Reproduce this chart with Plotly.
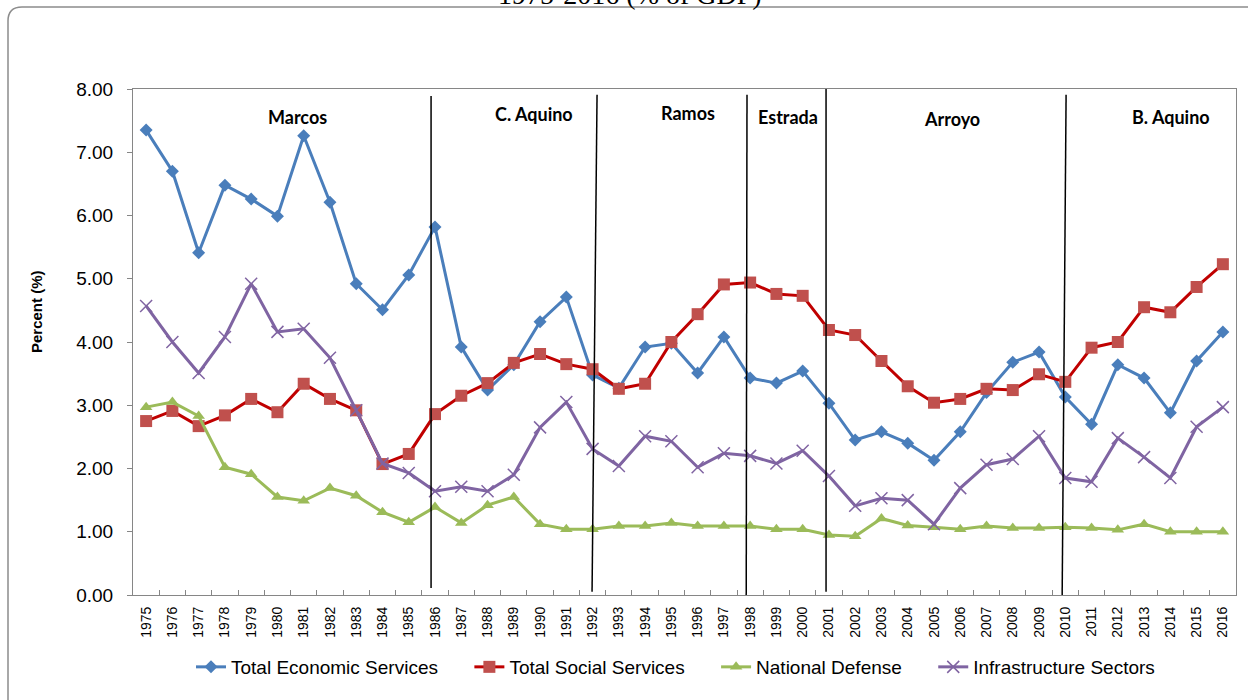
import plotly.graph_objects as go

# ---------------- data ----------------
years = [str(y) for y in range(1975, 2017)]

econ = [7.35, 6.70, 5.41, 6.48, 6.26, 5.99, 7.26, 6.21, 4.92, 4.51,
        5.06, 5.82, 3.92, 3.24, 3.64, 4.32, 4.71, 3.48, 3.27, 3.92,
        3.98, 3.51, 4.08, 3.43, 3.35, 3.54, 3.03, 2.45, 2.58, 2.40,
        2.13, 2.58, 3.20, 3.68, 3.84, 3.13, 2.70, 3.64, 3.43, 2.88,
        3.70, 4.16]
social = [2.75, 2.91, 2.67, 2.84, 3.10, 2.89, 3.34, 3.10, 2.92, 2.07,
          2.23, 2.86, 3.15, 3.35, 3.67, 3.81, 3.65, 3.57, 3.26, 3.34,
          4.00, 4.44, 4.91, 4.94, 4.76, 4.73, 4.19, 4.11, 3.70, 3.30,
          3.04, 3.10, 3.26, 3.24, 3.49, 3.37, 3.91, 4.00, 4.55, 4.47,
          4.87, 5.23]
defense = [2.97, 3.05, 2.83, 2.02, 1.91, 1.55, 1.49, 1.69, 1.57, 1.31,
           1.15, 1.39, 1.14, 1.42, 1.55, 1.12, 1.04, 1.04, 1.09, 1.09,
           1.14, 1.09, 1.09, 1.09, 1.04, 1.04, 0.95, 0.93, 1.21, 1.10,
           1.07, 1.04, 1.09, 1.06, 1.06, 1.07, 1.06, 1.03, 1.12, 1.00,
           1.00, 1.00]
infra = [4.57, 4.00, 3.51, 4.08, 4.92, 4.16, 4.21, 3.75, 2.92, 2.08,
         1.93, 1.64, 1.71, 1.64, 1.90, 2.65, 3.05, 2.31, 2.04, 2.51,
         2.43, 2.02, 2.24, 2.20, 2.08, 2.28, 1.88, 1.41, 1.53, 1.50,
         1.12, 1.69, 2.06, 2.15, 2.51, 1.85, 1.79, 2.48, 2.18, 1.85,
         2.66, 2.97]

series_names = ["Total Economic Services", "Total Social Services",
                "National Defense", "Infrastructure Sectors"]

# administrations (label, x position in category index units, y value)
terms = ["Marcos", "C. Aquino", "Ramos", "Estrada", "Arroyo", "B. Aquino"]
term_x = [5.77, 14.76, 20.63, 24.44, 30.69, 39.02]
term_y = [7.56, 7.60, 7.62, 7.56, 7.53, 7.56]

# hand-drawn term divider lines: (x top, x bottom, y top, y bottom), index units
break_top_x = [10.85, 17.17, 22.88, 25.89, 35.03]
break_bot_x = [10.85, 16.98, 22.85, 25.89, 34.88]
break_top_y = [7.89, 7.91, 7.91, 8.00, 7.91]
break_bot_y = [0.11, 0.05, 0.00, 0.05, -0.03]

y_ticks = [0, 1, 2, 3, 4, 5, 6, 7, 8]

# ---------------- figure ----------------
W, H = 1248, 700
ML, MR, MT, MB = 133, 12, 89, 105
PW, PH = W - ML - MR, H - MT - MB


def px_x(p):
    return (p - ML) / PW


def px_y(p):
    return (H - MB - p) / PH


fig = go.Figure()

styles = [
    dict(line=dict(color="#4A7EBB", width=3),
         marker=dict(symbol="diamond", size=10, color="#4A7EBB")),
    dict(line=dict(color="#C00000", width=3),
         marker=dict(symbol="square", size=12, color="#C0504D")),
    dict(line=dict(color="#9BBB59", width=3),
         marker=dict(symbol="triangle-up", size=11, color="#9BBB59")),
    dict(line=dict(color="#7F64A2", width=3),
         marker=dict(symbol="x-thin-open", size=12, color="#8064A2",
                     line=dict(width=1.5, color="#8064A2"))),
]
pad = "\u00a0" * 5
for name, vals, st in zip(series_names, [econ, social, defense, infra], styles):
    fig.add_trace(go.Scatter(x=years, y=vals, name=name + pad,
                             mode="lines+markers", **st))

for xt, xb, yt, yb in zip(break_top_x, break_bot_x, break_top_y, break_bot_y):
    fig.add_shape(type="line", xref="x", yref="y", x0=xt, x1=xb, y0=yt, y1=yb,
                  line=dict(color="black", width=1.5), layer="above")

for t, tx, ty in zip(terms, term_x, term_y):
    fig.add_annotation(x=tx, y=ty, xref="x", yref="y", text="<b>" + t + "</b>",
                       showarrow=False, xanchor="center", yanchor="middle",
                       font=dict(family="Lato, Arial", size=18, color="black"))

# y-axis title
fig.add_annotation(x=px_x(36), y=px_y(312), xref="paper", yref="paper",
                   xanchor="center", yanchor="middle",
                   text="<b>Percent (%)</b>", textangle=-90, showarrow=False,
                   font=dict(family="Liberation Sans, Arial", size=15, color="black"))

# partially cut-off chart title at the very top
fig.add_annotation(x=px_x(630), y=px_y(12), xref="paper", yref="paper",
                   xanchor="center", yanchor="bottom",
                   text="1975-2016 (% of GDP)", showarrow=False,
                   font=dict(family="Liberation Serif, Times New Roman", size=28,
                             color="black"))

# rounded outer chart frame (extends beyond the picture on right/bottom)
x0, x1 = px_x(8), px_x(1262)
y0, y1 = px_y(7), px_y(712)
rx, ry = 14 / PW, 14 / PH
path = (f"M {x0},{y1} L {x0},{y0 - ry} Q {x0},{y0} {x0 + rx},{y0} "
        f"L {x1 - rx},{y0} Q {x1},{y0} {x1},{y0 - ry} L {x1},{y1} Z")
fig.add_shape(type="path", xref="paper", yref="paper", path=path,
              line=dict(color="#8C8C8C", width=1.5), layer="below")

fig.update_layout(
    width=W, height=H,
    margin=dict(l=ML, r=MR, t=MT, b=MB, autoexpand=False),
    paper_bgcolor="white", plot_bgcolor="white",
    font=dict(family="Liberation Sans, Arial", color="black"),
    showlegend=True,
    legend=dict(orientation="h", x=px_x(191), y=px_y(648), xanchor="left",
                yanchor="top", font=dict(size=19, color="black"),
                bgcolor="rgba(0,0,0,0)", itemclick=False),
)

fig.update_xaxes(type="category", tickangle=-90, tickson="boundaries",
                 ticks="inside", ticklen=5, tickcolor="#868686",
                 showline=True, linecolor="#868686", linewidth=1, mirror=True,
                 showgrid=False, tickfont=dict(size=14, color="black"),
                 ticklabelstandoff=5,
                 range=[-0.5, len(years) - 0.5])
fig.update_yaxes(range=[0, 8], tickvals=y_ticks, tickformat=".2f",
                 ticks="outside", ticklen=5, tickcolor="#868686",
                 showline=True, linecolor="#868686", linewidth=1, mirror=True,
                 showgrid=False, zeroline=False, ticklabelstandoff=10,
                 tickfont=dict(size=19, color="black"))

fig.write_html("out.html",
               config={"displayModeBar": False},
               post_script="document.body.style.margin='0px';")
